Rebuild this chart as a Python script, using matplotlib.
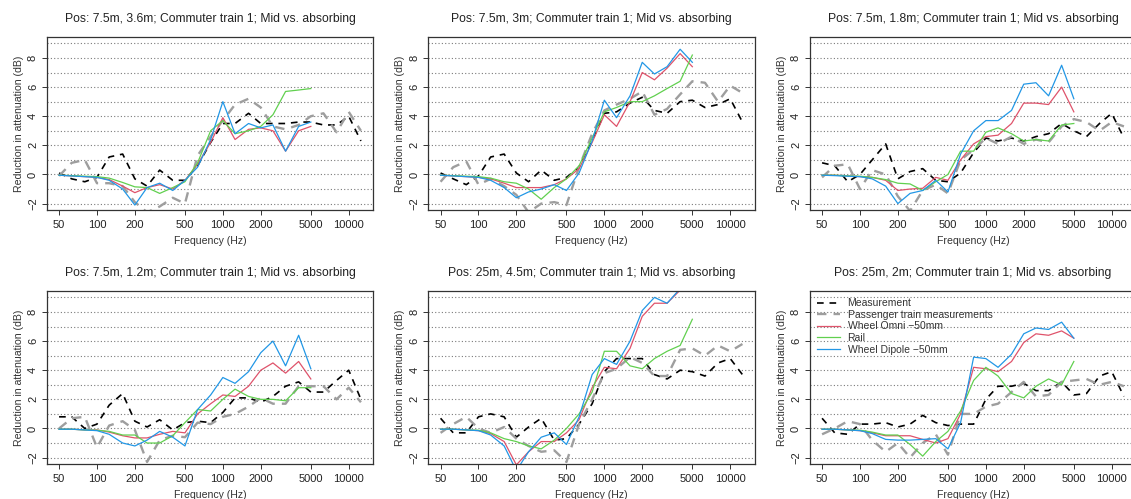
import numpy as np
import matplotlib
matplotlib.use("Agg")
from matplotlib import pyplot as plt

plt.rcParams['font.family'] = ['Liberation Sans', 'DejaVu Sans']

# 1/3 octave band centre frequencies
freq = [50, 63, 80, 100, 125, 160, 200, 250, 315, 400, 500, 630, 800, 1000,
        1250, 1600, 2000, 2500, 3150, 4000, 5000, 6300, 8000, 10000, 12500]
freq_sim = freq[:21]  # simulations stop at 5000 Hz

titles = ["Pos: 7.5m, 3.6m; Commuter train 1; Mid vs. absorbing",
          "Pos: 7.5m, 3m; Commuter train 1; Mid vs. absorbing",
          "Pos: 7.5m, 1.8m; Commuter train 1; Mid vs. absorbing",
          "Pos: 7.5m, 1.2m; Commuter train 1; Mid vs. absorbing",
          "Pos: 25m, 4.5m; Commuter train 1; Mid vs. absorbing",
          "Pos: 25m, 2m; Commuter train 1; Mid vs. absorbing"]

# Measurement (black dashed)
meas = [
    [0.1, -0.3, -0.5, -0.2, 1.2, 1.4, -0.3, -0.8, 0.3, -0.4, -0.4, 0.6, 2.2, 3.5,
     3.5, 4.2, 3.5, 3.5, 3.5, 3.6, 3.6, 3.4, 3.4, 4.0, 2.3],
    [0.1, -0.3, -0.7, -0.1, 1.2, 1.4, 0.1, -0.5, 0.3, -0.4, -0.2, 0.5, 2.3, 4.2,
     4.3, 4.9, 5.3, 4.4, 4.2, 5.0, 5.1, 4.6, 4.8, 5.2, 3.6],
    [0.8, 0.6, -0.5, 0.0, 1.0, 2.1, -0.3, 0.2, 0.4, -0.4, -0.5, 0.1, 1.5, 2.5,
     2.3, 2.5, 2.3, 2.6, 2.8, 3.5, 3.0, 2.6, 3.5, 4.2, 2.5],
    [0.8, 0.8, 0.0, 0.3, 1.6, 2.4, 0.5, 0.1, 0.6, -0.1, 0.4, 0.5, 0.4, 1.1,
     2.1, 2.1, 1.8, 2.2, 2.9, 3.2, 2.5, 2.5, 3.3, 4.0, 2.0],
    [0.7, -0.3, -0.3, 0.8, 1.0, 0.8, -0.6, 0.1, 0.7, -0.8, -0.7, 0.3, 1.7, 3.9,
     4.8, 4.8, 4.8, 3.7, 3.4, 4.0, 3.9, 3.6, 4.5, 4.8, 3.7],
    [0.7, -0.3, -0.4, 0.3, 0.3, 0.4, 0.1, 0.3, 0.9, 0.4, 0.2, 0.3, 0.3, 2.0,
     2.9, 2.9, 3.1, 2.6, 2.6, 3.2, 2.3, 2.4, 3.6, 3.9, 2.2],
]

# Passenger train measurements (grey dashed)
passenger = [
    [-0.1, 0.8, 1.0, -0.6, -0.6, -0.8, -1.9, -2.6, -2.2, -1.6, -2.0, 1.3, 2.6, 3.7,
     4.8, 5.2, 4.6, 3.3, 3.1, 3.4, 4.0, 4.2, 2.9, 4.3, 3.0],
    [-0.5, 0.5, 0.9, -0.7, -0.3, -0.8, -1.4, -2.6, -2.0, -1.9, -2.1, 0.5, 2.8, 4.4,
     4.8, 5.2, 5.7, 4.1, 4.5, 5.5, 6.4, 6.3, 5.0, 6.1, 5.6],
    [-0.2, 0.6, 0.7, -1.0, 0.3, 0.0, -1.5, -2.5, -1.1, -0.7, -1.3, 1.0, 1.7, 2.5,
     2.1, 2.6, 2.1, 2.4, 2.2, 3.3, 3.8, 3.6, 3.0, 3.6, 3.3],
    [0.0, 0.7, 0.8, -1.3, 0.2, 0.5, -0.1, -2.3, -0.8, -0.5, -0.6, 0.4, 0.3, 0.8,
     1.0, 1.5, 2.1, 1.7, 1.7, 2.9, 2.9, 2.9, 2.0, 2.8, 1.8],
    [-0.3, 0.3, 0.8, 0.0, -0.3, 0.1, -0.7, -1.2, -1.6, -1.5, -2.3, 0.3, 2.0, 3.8,
     4.1, 4.9, 4.5, 3.6, 3.6, 5.4, 5.5, 5.0, 5.7, 5.3, 5.8],
    [-0.4, 0.0, 0.5, 0.3, -0.8, -1.6, -1.0, -2.0, -1.0, -0.4, -1.8, 1.0, 1.0, 1.5,
     1.7, 2.5, 3.2, 2.2, 2.3, 3.2, 3.3, 3.4, 3.0, 3.2, 2.9],
]

# Wheel Omni -50mm (red)
omni = [
    [-0.05, -0.1, -0.15, -0.2, -0.35, -0.8, -1.25, -0.9, -0.7, -1.0, -0.4, 0.7, 2.2, 3.9,
     2.4, 3.1, 3.2, 3.0, 1.6, 3.0, 3.3],
    [-0.05, -0.1, -0.15, -0.2, -0.3, -0.6, -0.9, -0.9, -0.9, -0.7, -0.3, 0.4, 2.2, 4.1,
     3.3, 5.0, 7.0, 6.5, 7.3, 8.3, 7.4],
    [-0.05, -0.05, -0.1, -0.15, -0.2, -0.4, -1.1, -1.0, -0.95, -0.2, -0.4, 1.0, 2.1, 2.6,
     2.7, 3.5, 4.9, 4.9, 4.8, 6.0, 4.3],
    [-0.05, -0.05, -0.1, -0.1, -0.25, -0.5, -0.65, -0.65, -0.4, -0.2, -0.3, 1.0, 1.7, 2.3,
     2.2, 2.9, 4.0, 4.5, 3.8, 4.6, 3.4],
    [-0.05, -0.05, -0.1, -0.15, -0.35, -0.9, -2.5, -1.6, -0.9, -0.9, -0.3, 0.6, 2.8, 4.2,
     4.1, 5.5, 7.7, 8.6, 8.6, 9.5, 10.3],
    [-0.05, -0.05, -0.1, -0.15, -0.3, -0.5, -0.5, -0.5, -0.75, -1.0, -0.7, 1.0, 4.2, 4.1,
     3.9, 4.6, 5.9, 6.5, 6.4, 6.7, 6.2],
]

# Rail (green)
rail = [
    [-0.05, -0.08, -0.12, -0.15, -0.25, -0.55, -0.85, -0.9, -1.3, -0.9, -0.5, 0.8, 3.0, 3.7,
     2.8, 3.0, 3.3, 4.1, 5.7, 5.8, 5.9],
    [-0.05, -0.08, -0.12, -0.15, -0.25, -0.5, -0.6, -1.0, -1.7, -0.9, -0.3, 0.6, 2.5, 4.3,
     4.6, 5.0, 5.0, 5.4, 5.9, 6.4, 8.2],
    [-0.05, -0.05, -0.1, -0.12, -0.2, -0.35, -0.6, -0.65, -1.1, -0.5, 0.0, 1.6, 1.6, 2.9,
     3.2, 2.8, 2.3, 2.4, 2.3, 3.4, 3.5],
    [-0.05, -0.05, -0.1, -0.12, -0.2, -0.45, -0.45, -1.0, -1.0, -0.5, 0.4, 1.3, 1.2, 2.0,
     2.7, 2.2, 2.0, 2.0, 1.9, 2.8, 2.8],
    [-0.05, -0.05, -0.1, -0.12, -0.3, -0.7, -0.9, -1.2, -1.4, -0.8, 0.0, 1.0, 2.5, 5.3,
     5.3, 4.3, 4.1, 4.8, 5.3, 5.7, 7.5],
    [-0.05, -0.05, -0.1, -0.12, -0.25, -0.45, -0.45, -1.1, -1.9, -0.9, -0.2, 1.2, 3.3, 4.2,
     3.6, 2.4, 2.1, 2.9, 3.4, 3.0, 4.6],
]

# Wheel Dipole -50mm (blue)
dipole = [
    [-0.05, -0.1, -0.15, -0.2, -0.4, -1.0, -2.1, -0.9, -0.6, -1.1, -0.4, 0.5, 2.4, 5.0,
     2.8, 3.5, 3.2, 3.4, 1.6, 3.3, 3.6],
    [-0.05, -0.1, -0.15, -0.2, -0.4, -0.9, -1.6, -1.2, -1.0, -0.7, -1.1, 0.1, 2.3, 5.1,
     3.9, 5.4, 7.7, 6.9, 7.4, 8.6, 7.7],
    [-0.05, -0.08, -0.12, -0.15, -0.3, -0.8, -2.0, -1.3, -1.1, -0.4, -1.2, 1.4, 3.0, 3.7,
     3.7, 4.4, 6.2, 6.3, 5.4, 7.5, 5.2],
    [-0.05, -0.05, -0.1, -0.15, -0.4, -1.0, -1.2, -0.8, -0.2, -0.6, -1.2, 1.3, 2.3, 3.5,
     3.1, 3.9, 5.2, 6.0, 4.3, 6.4, 4.1],
    [-0.05, -0.05, -0.1, -0.15, -0.45, -1.2, -2.9, -1.6, -0.6, -0.3, -1.1, 0.8, 3.7, 4.8,
     4.4, 6.0, 8.1, 9.0, 8.6, 9.6, 10.5],
    [-0.05, -0.05, -0.1, -0.15, -0.35, -0.75, -0.8, -0.8, -0.75, -0.7, -1.4, 0.4, 4.9, 4.8,
     4.2, 5.1, 6.5, 6.9, 6.8, 7.3, 6.2],
]

xticks = [50, 100, 200, 500, 1000, 2000, 5000, 10000]
yticks = [-2, 0, 2, 4, 6, 8]

W, H = 1131, 499
fig = plt.figure(figsize=(W / 100, H / 100), dpi=100)

lefts = [47, 428.5, 810]
tops = [37, 291]
aw, ah = 326, 173

# R style ranges: 4% extension of data range
lx0, lx1 = np.log10(50), np.log10(12500)
dx = 0.04 * (lx1 - lx0)
xlim = (10 ** (lx0 - dx), 10 ** (lx1 + dx))
ylim = (-2 - 0.44, 9 + 0.44)

for k in range(6):
    r, c = divmod(k, 3)
    ax = fig.add_axes([lefts[c] / W, 1 - (tops[r] + ah) / H, aw / W, ah / H])
    ax.set_xscale('log')
    ax.set_xlim(*xlim)
    ax.set_ylim(*ylim)
    for g in range(-2, 10):
        ax.axhline(g, color='#7a7a7a', lw=0.8, ls=(0, (1, 2)), zorder=0)
    ax.plot(freq, meas[k], color='black', lw=1.2, ls=(0, (4, 3.5)),
            label='Measurement')
    ax.plot(freq, passenger[k], color='#9e9e9e', lw=1.7, ls=(0, (4, 3)),
            label='Passenger train measurements')
    ax.plot(freq_sim, omni[k], color='#DF536B', lw=0.9, label='Wheel Omni \u221250mm')
    ax.plot(freq_sim, rail[k], color='#61D04F', lw=0.9, label='Rail')
    ax.plot(freq_sim, dipole[k], color='#2297E6', lw=0.9, label='Wheel Dipole \u221250mm')

    ax.set_xticks(xticks)
    ax.set_xticklabels([str(t) for t in xticks])
    ax.xaxis.set_minor_locator(matplotlib.ticker.NullLocator())
    ax.set_yticks(yticks)
    ax.set_yticklabels([str(t).replace('-', '\u2212') for t in yticks],
                       rotation=90, va='center')
    ax.tick_params(axis='both', direction='out', length=3.5, width=0.7,
                   labelsize=8, color='#333333', labelcolor='#222222')
    ax.tick_params(axis='x', pad=4)
    ax.tick_params(axis='y', pad=3)
    for s in ax.spines.values():
        s.set_color('#333333')
        s.set_linewidth(0.9)
    ax.set_xlabel('Frequency (Hz)', fontsize=7.6, color='#333333', labelpad=4)
    ax.set_ylabel('Reduction in attenuation (dB)', fontsize=7.6, color='#333333',
                  labelpad=3)
    ax.set_title(titles[k], fontsize=8.7, color='#222222', pad=11)

    if k == 5:
        ax.legend(loc='upper left', bbox_to_anchor=(0.0, 1.0), frameon=False,
                  fontsize=7.5, handlelength=2.2, handletextpad=0.7,
                  labelspacing=0.15, borderaxespad=0.3, labelcolor='#333333')

fig.savefig('out.png', dpi=100)
